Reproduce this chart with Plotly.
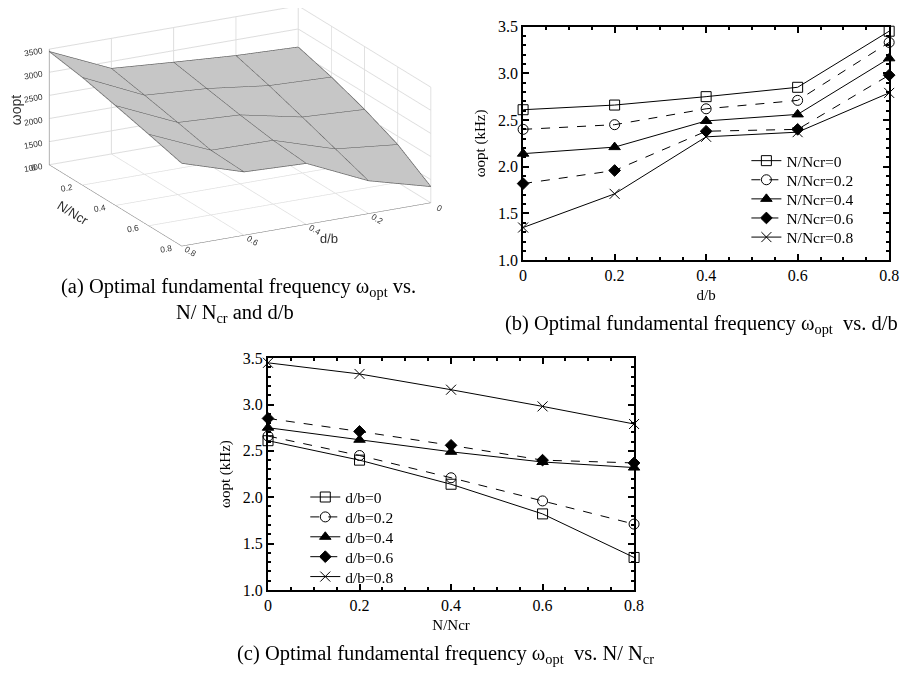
import plotly.graph_objects as go

# Data: optimal fundamental frequency (kHz); rows by N/Ncr, columns by d/b
db_vals = [0, 0.2, 0.4, 0.6, 0.8]
n_vals = [0, 0.2, 0.4, 0.6, 0.8]
w_n00 = [2.61, 2.66, 2.75, 2.85, 3.45]
w_n02 = [2.40, 2.45, 2.62, 2.71, 3.33]
w_n04 = [2.14, 2.21, 2.49, 2.56, 3.16]
w_n06 = [1.82, 1.96, 2.38, 2.40, 2.98]
w_n08 = [1.35, 1.71, 2.32, 2.37, 2.79]
rows = [w_n00, w_n02, w_n04, w_n06, w_n08]
n_labels = ["N/Ncr=0", "N/Ncr=0.2", "N/Ncr=0.4", "N/Ncr=0.6", "N/Ncr=0.8"]
d_labels = ["d/b=0", "d/b=0.2", "d/b=0.4", "d/b=0.6", "d/b=0.8"]

symbols = ["square-open", "circle-open", "triangle-up", "diamond", "x-thin-open"]
dashes = ["solid", "dash", "solid", "dash", "solid"]
sizes = [10, 10, 10, 9, 10]

SERIF = "Liberation Serif"
fig = go.Figure()

# (a) 3D surface in Hz
z_hz = [[v * 1000 for v in r] for r in rows]
fig.add_trace(go.Surface(
    x=db_vals, y=n_vals, z=z_hz,
    colorscale=[[0, "#c6c6c6"], [1, "#c6c6c6"]], showscale=False,
    lighting=dict(ambient=1, diffuse=0, specular=0, roughness=1, fresnel=0),
    contours=dict(
        x=dict(show=True, start=0, end=0.8, size=0.2, color="#555555", width=1),
        y=dict(show=True, start=0, end=0.8, size=0.2, color="#555555", width=1),
    ),
    hoverinfo="skip", scene="scene",
))
# surface border edges (from the data grid)
edge_x = db_vals + [db_vals[-1]] * len(n_vals) + db_vals[::-1] + [db_vals[0]] * len(n_vals)
edge_y = [n_vals[0]] * len(db_vals) + n_vals + [n_vals[-1]] * len(db_vals) + n_vals[::-1]
edge_z = (z_hz[0] + [r[-1] for r in z_hz] + z_hz[-1][::-1] + [r[0] for r in z_hz][::-1])
fig.add_trace(go.Scatter3d(x=edge_x, y=edge_y, z=edge_z, mode="lines",
                           line=dict(color="#666666", width=1.5), hoverinfo="skip",
                           showlegend=False, scene="scene"))

# one legend per entry so that entry spacing matches the reference
legends = {}

# (b) vs d/b
for i, r in enumerate(rows):
    lname = "legend" if i == 0 else f"legend{i + 1}"
    legends[lname] = (754, 157 + i * 19.6)
    fig.add_trace(go.Scatter(
        x=db_vals, y=r, name=n_labels[i], mode="lines+markers",
        line=dict(color="black", width=1, dash=dashes[i]),
        marker=dict(symbol=symbols[i], size=sizes[i], color="black",
                    line=dict(color="black", width=1)),
        cliponaxis=False, xaxis="x", yaxis="y", legend=lname,
    ))

# (c) vs N/Ncr
for j in range(len(db_vals)):
    col = [r[j] for r in rows]
    lname = f"legend{j + 6}"
    legends[lname] = (306, 502 + j * 20.4)
    fig.add_trace(go.Scatter(
        x=n_vals, y=col, name=d_labels[j], mode="lines+markers",
        line=dict(color="black", width=1, dash=dashes[j]),
        marker=dict(symbol=symbols[j], size=sizes[j], color="black",
                    line=dict(color="black", width=1)),
        cliponaxis=False, xaxis="x2", yaxis="y2", legend=lname,
    ))

def xax(domain, anchor, title):
    return dict(domain=domain, anchor=anchor, range=[0, 0.8], tickvals=[0, 0.2, 0.4, 0.6, 0.8],
                ticktext=["0", "0.2", "0.4", "0.6", "0.8"],
                ticks="inside", ticklen=6, tickwidth=2, tickcolor="black",
                minor=dict(dtick=0.05, ticks="inside", ticklen=3, tickwidth=1.5, tickcolor="black"),
                showline=True, linecolor="black", linewidth=2, mirror="ticks",
                showgrid=False, zeroline=False,
                tickfont=dict(family=SERIF, size=16, color="black"),
                title=dict(text=title, font=dict(family=SERIF, size=15, color="black"), standoff=6))

def yax(domain, anchor):
    return dict(domain=domain, anchor=anchor, range=[1.0, 3.5], dtick=0.5, tick0=1.0, tickformat=".1f",
                ticks="inside", ticklen=6, tickwidth=2, tickcolor="black",
                minor=dict(dtick=0.1, ticks="inside", ticklen=3, tickwidth=1.5, tickcolor="black"),
                showline=True, linecolor="black", linewidth=2, mirror="ticks",
                showgrid=False, zeroline=False,
                tickfont=dict(family=SERIF, size=16, color="black"),
                title=dict(text="ωopt (kHz)", font=dict(family=SERIF, size=15, color="black"), standoff=9))

ax3 = dict(family="Liberation Sans", size=10, color="#333333")
t3 = dict(family="Liberation Sans", size=13, color="#333333")
leg_layout = {}
for lname, (lx, ly) in legends.items():
    leg_layout[lname] = dict(x=lx / 909, y=1 - ly / 679, xanchor="left", yanchor="middle",
                             bgcolor="rgba(0,0,0,0)", font=dict(family=SERIF, size=15.5, color="black"))

fig.update_layout(
    width=909, height=679, margin=dict(l=0, r=0, t=0, b=0),
    paper_bgcolor="white", plot_bgcolor="white",
    xaxis=xax([0.580, 0.989], "y", "d/b"),
    yaxis=yax([0.619, 0.972], "x"),
    xaxis2=xax([0.295, 0.704], "y2", "N/Ncr"),
    yaxis2=yax([0.121, 0.471], "x2"),
    scene=dict(
        domain=dict(x=[0.013, 0.513], y=[0.58, 1.0]),
        xaxis=dict(title=dict(text="d/b", font=t3),
                   range=[0, 0.8], tickvals=[0, 0.2, 0.4, 0.6, 0.8], tickfont=ax3,
                   showbackground=False, gridcolor="#dddddd", showline=True, linecolor="#666",
                   zeroline=False, showspikes=False),
        yaxis=dict(title=dict(text="N/Ncr", font=t3),
                   range=[0, 0.8], tickvals=[0, 0.2, 0.4, 0.6, 0.8], tickfont=ax3,
                   showbackground=False, gridcolor="#dddddd", showline=True, linecolor="#666",
                   zeroline=False, showspikes=False),
        zaxis=dict(title=dict(text=""),
                   range=[1000, 3500], tickvals=[1000, 1500, 2000, 2500, 3000, 3500], tickfont=ax3,
                   showbackground=False, gridcolor="#dddddd", showline=True, linecolor="#666",
                   zeroline=False, showspikes=False),
        aspectmode="manual", aspectratio=dict(x=2.03, y=2.03, z=0.88),
        camera=dict(eye=dict(x=1.034, y=1.942, z=0.60), center=dict(x=0, y=0, z=-0.16),
                    projection=dict(type="orthographic")),
    ),
    showlegend=True,
    **leg_layout,
)

# z-axis title of the 3D view, drawn vertically as in the reference
fig.add_annotation(text="ωopt", x=13 / 909, y=1 - 104 / 679, xref="paper", yref="paper",
                   xanchor="center", yanchor="middle", textangle=-90, showarrow=False,
                   font=dict(family="Liberation Sans", size=14, color="#333333"))

cap = dict(family=SERIF, size=20.5, color="black")
def caption(text, xpx, ypx):
    fig.add_annotation(text=text, x=xpx / 909, y=1 - ypx / 679, xref="paper", yref="paper",
                       xanchor="center", yanchor="middle", showarrow=False, font=cap)

caption("(a) Optimal fundamental frequency ω<sub>opt</sub> vs.", 238, 287)
caption("N/ N<sub>cr</sub> and d/b", 235, 313)
caption("(b) Optimal fundamental frequency ω<sub>opt</sub>  vs. d/b", 708, 325)
caption("(c) Optimal fundamental frequency ω<sub>opt</sub>  vs. N/ N<sub>cr</sub>", 448, 663)

fig.write_html("out.html")
